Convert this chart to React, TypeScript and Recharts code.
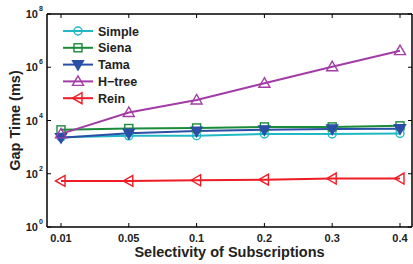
import { LineChart, Line, XAxis, YAxis } from 'recharts';

const selectivity = ['0.01', '0.05', '0.1', '0.2', '0.3', '0.4'];
const simple = [2350, 2650, 2700, 3100, 3100, 3250];
const siena = [4450, 5000, 5250, 5750, 5750, 6300];
const tama = [2270, 3300, 4000, 4450, 4800, 4900];
const htree = [3150, 20000, 59000, 251000, 1050000, 4200000];
const rein = [54, 54, 57, 60, 66, 66];
const yTicks = [1, 1e2, 1e4, 1e6, 1e8];

const data = selectivity.map((s, i) => ({
  s,
  simple: simple[i],
  siena: siena[i],
  tama: tama[i],
  htree: htree[i],
  rein: rein[i],
}));

const FONT = '"Liberation Sans", Arial, sans-serif';

type Shape = 'circle' | 'square' | 'down' | 'up' | 'left';

const series: { key: string; name: string; color: string; shape: Shape; filled?: boolean }[] = [
  { key: 'simple', name: 'Simple', color: '#20b8c4', shape: 'circle' },
  { key: 'siena', name: 'Siena', color: '#1b8a3a', shape: 'square' },
  { key: 'tama', name: 'Tama', color: '#2b4ea6', shape: 'down', filled: true },
  { key: 'htree', name: 'H\u2212tree', color: '#a23ca6', shape: 'up' },
  { key: 'rein', name: 'Rein', color: '#ee1c25', shape: 'left' },
];

function Marker({ cx, cy, shape, color, filled }: { cx: number; cy: number; shape: Shape; color: string; filled?: boolean }) {
  const fill = filled ? color : 'none';
  const sw = 1.4;
  if (shape === 'circle') return <circle cx={cx} cy={cy} r={4} fill={fill} stroke={color} strokeWidth={sw} />;
  if (shape === 'square') return <rect x={cx - 4} y={cy - 4} width={8} height={8} fill={fill} stroke={color} strokeWidth={sw} />;
  let pts = '';
  if (shape === 'up') pts = `${cx},${cy - 5.5} ${cx - 5.5},${cy + 4} ${cx + 5.5},${cy + 4}`;
  if (shape === 'down') pts = `${cx},${cy + 5.5} ${cx - 5.5},${cy - 4} ${cx + 5.5},${cy - 4}`;
  if (shape === 'left') pts = `${cx - 5.5},${cy} ${cx + 4},${cy - 5.5} ${cx + 4},${cy + 5.5}`;
  return <polygon points={pts} fill={fill} stroke={color} strokeWidth={sw} />;
}

function BottomTick(props: any) {
  const { x, y, payload } = props;
  return (
    <g>
      <line x1={x} y1={y} x2={x} y2={y - 4} stroke="#000" strokeWidth={1} />
      <text x={x} y={y + 15} textAnchor="middle" fontFamily={FONT} fontWeight="bold" fontSize={11} fill="#222">
        {payload.value}
      </text>
    </g>
  );
}

function TopTick(props: any) {
  const { x, y } = props;
  return <line x1={x} y1={y} x2={x} y2={y + 4} stroke="#000" strokeWidth={1} />;
}

function LeftTick(props: any) {
  const { x, y, payload } = props;
  const exp = Math.round(Math.log10(payload.value));
  return (
    <g>
      <line x1={x} y1={y} x2={x + 4} y2={y} stroke="#000" strokeWidth={1} />
      <text x={x - 9} y={y + 4} textAnchor="end" fontFamily={FONT} fontWeight="bold" fontSize={11} fill="#222">
        10
      </text>
      <text x={x - 8} y={y - 3} textAnchor="start" fontFamily={FONT} fontWeight="bold" fontSize={7} fill="#222">
        {exp}
      </text>
    </g>
  );
}

function RightTick(props: any) {
  const { x, y } = props;
  return <line x1={x} y1={y} x2={x - 4} y2={y} stroke="#000" strokeWidth={1} />;
}

function LegendBox() {
  return (
    <svg width={110} height={90} style={{ position: 'absolute', left: 60, top: 23 }}>
      {series.map((s, i) => {
        const cy = 8 + i * 16.8;
        return (
          <g key={s.key}>
            <line x1={3} y1={cy} x2={33} y2={cy} stroke={s.color} strokeWidth={2} />
            <Marker cx={18} cy={cy} shape={s.shape} color={s.color} filled={s.filled} />
            <text x={38} y={cy + 4.5} fontFamily={FONT} fontWeight="bold" fontSize={12.5} fill="#222">
              {s.name}
            </text>
          </g>
        );
      })}
    </svg>
  );
}

export default function App() {
  return (
    <div style={{ position: 'absolute', left: 0, top: 0, width: 413, height: 264, background: '#fff' }}>
      <LineChart width={413} height={264} data={data} margin={{ top: 13, right: 0, bottom: 36, left: 0 }}>
        <XAxis
          dataKey="s"
          xAxisId="bottom"
          type="category"
          padding={{ left: 14, right: 12 }}
          stroke="#000"
          strokeWidth={1.5}
          tickLine={false}
          tickSize={0}
          tickMargin={0}
          tick={<BottomTick />}
          interval={0}
          height={1}
          label={{
            value: 'Selectivity of Subscriptions',
            position: 'insideBottom',
            offset: -29,
            style: { fontFamily: FONT, fontWeight: 'bold', fontSize: 14.5, fill: '#222' },
          }}
        />
        <XAxis
          dataKey="s"
          xAxisId="top"
          orientation="top"
          type="category"
          padding={{ left: 14, right: 12 }}
          stroke="#000"
          strokeWidth={1.5}
          tickLine={false}
          tickSize={0}
          tickMargin={0}
          tick={<TopTick />}
          interval={0}
          height={1}
        />
        <YAxis
          yAxisId="left"
          scale="log"
          domain={[1, 1e8]}
          ticks={yTicks}
          allowDataOverflow
          width={47}
          stroke="#000"
          strokeWidth={1.5}
          tickLine={false}
          tickSize={0}
          tickMargin={0}
          tick={<LeftTick />}
          interval={0}
          label={{
            value: 'Gap Time  (ms)',
            angle: -90,
            position: 'center',
            dx: -9,
            style: { fontFamily: FONT, fontWeight: 'bold', fontSize: 14.5, fill: '#222', textAnchor: 'middle' },
          }}
        />
        <YAxis
          yAxisId="right"
          orientation="right"
          scale="log"
          domain={[1, 1e8]}
          ticks={yTicks}
          allowDataOverflow
          width={1}
          stroke="#000"
          strokeWidth={1.5}
          tickLine={false}
          tickSize={0}
          tickMargin={0}
          tick={<RightTick />}
          interval={0}
        />
        {series.map((s) => (
          <Line
            key={s.key}
            dataKey={s.key}
            name={s.name}
            xAxisId="bottom"
            yAxisId="left"
            stroke={s.color}
            strokeWidth={2}
            isAnimationActive={false}
            dot={(p: any) => (
              <Marker key={`${s.key}-${p.index}`} cx={p.cx} cy={p.cy} shape={s.shape} color={s.color} filled={s.filled} />
            )}
          />
        ))}
      </LineChart>
      <LegendBox />
    </div>
  );
}
